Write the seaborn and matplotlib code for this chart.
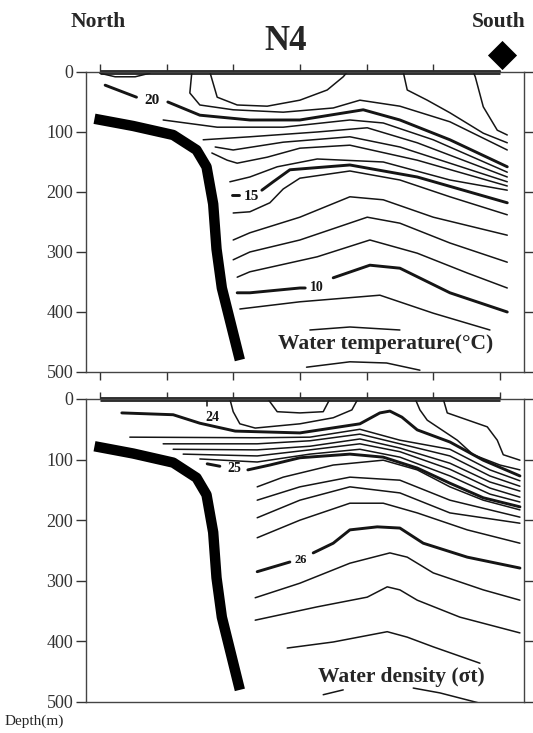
import matplotlib
matplotlib.use("Agg")
import matplotlib.pyplot as plt
import seaborn as sns

sns.set_style("ticks")
plt.rcParams['font.family'] = ['Liberation Serif', 'DejaVu Serif']

# stations along section N4 (km) and depth ticks (m)
stations_km = [0, 10, 20, 30, 40, 50, 60]
depth_ticks = [0, 100, 200, 300, 400, 500]

# sea bottom (shelf slope)
slope_km = [-0.8, 5.0, 11.0, 14.5, 16.0, 17.0, 17.5, 18.3, 21.0]
slope_dep = [78, 90, 105, 130, 158, 220, 295, 360, 480]

# ---------------- water temperature isotherms (km, depth) ----------------
t_lens_x = [0.0, 2.3, 5.3, 7.5]
t_lens_z = [2, 8, 8, 2]
t21a_x = [16.5, 17.6, 20.6, 25.1, 30.0, 34.1, 36.5, 37.1]
t21a_z = [0, 42, 55, 57, 47, 30, 8, 0]
t21b_x = [13.8, 13.5, 15.0, 20.0, 27.5, 35.0, 39.0, 45.0, 52.5, 61.1]
t21b_z = [0, 35, 55, 63, 67, 60, 47, 57, 83, 130]
t21c_x = [45.5, 46.1, 49.1, 52.5, 57.5, 61.1]
t21c_z = [0, 30, 47, 68, 102, 118]
t22_x = [56.0, 56.3, 57.5, 59.6, 61.1]
t22_z = [0, 8, 58, 97, 105]
t20a_x = [0.8, 5.5]
t20a_z = [22, 42]
t20b_x = [10.2, 15.0, 22.5, 30.0, 39.5, 45.0, 52.5, 61.1]
t20b_z = [50, 72, 80, 80, 63, 80, 113, 158]
t19_x = [9.5, 17.6, 27.5, 37.5, 42.5, 50.0, 61.1]
t19_z = [80, 92, 92, 80, 85, 113, 167]
t18_x = [15.5, 22.5, 32.6, 40.1, 47.6, 61.1]
t18_z = [113, 108, 100, 93, 118, 175]
t17_x = [17.3, 20.0, 27.5, 37.5, 45.0, 61.1]
t17_z = [125, 130, 117, 108, 125, 183]
t16_x = [16.8, 19.1, 20.6, 25.1, 30.0, 37.5, 47.6, 61.1]
t16_z = [135, 147, 152, 142, 127, 122, 147, 190]
t155_x = [19.5, 22.5, 26.6, 32.6, 42.5, 52.5, 61.1]
t155_z = [183, 175, 158, 145, 150, 180, 197]
t15a_x = [19.8, 20.9]
t15a_z = [205, 205]
t15b_x = [24.3, 26.0, 28.5, 37.5, 47.6, 61.1]
t15b_z = [197, 183, 163, 155, 175, 218]
t14_x = [20.0, 22.5, 25.5, 27.5, 30.0, 37.5, 45.0, 52.5, 61.1]
t14_z = [235, 233, 218, 195, 177, 165, 180, 208, 238]
t13_x = [20.0, 22.5, 30.0, 37.5, 42.5, 50.0, 61.1]
t13_z = [280, 268, 242, 208, 213, 242, 272]
t12_x = [20.0, 22.5, 30.0, 40.1, 45.0, 52.5, 61.1]
t12_z = [313, 300, 280, 242, 252, 285, 317]
t11_x = [20.6, 22.5, 32.6, 40.5, 47.6, 55.1, 61.1]
t11_z = [342, 333, 308, 280, 302, 335, 360]
t10a_x = [20.6, 22.5, 30.0, 30.8]
t10a_z = [368, 368, 360, 360]
t10b_x = [35.0, 40.5, 45.0, 52.5, 61.1]
t10b_z = [343, 322, 327, 368, 400]
t9_x = [21.0, 30.0, 42.0, 50.0, 58.5]
t9_z = [395, 383, 372, 402, 430]
t8_x = [31.5, 37.5, 45.0]
t8_z = [430, 425, 430]
t7_x = [31.0, 37.5, 43.0, 48.0]
t7_z = [492, 483, 485, 497]

# ---------------- water density (sigma-t) isopycnals (km, depth) ----------------
d_lens_x = [25.2, 26.6, 30.0, 33.5, 34.5]
d_lens_z = [0, 21, 23, 21, 0]
d24_x = [16.1, 16.1]
d24_z = [0, 12]
d_u_x = [19.5, 20.0, 21.0, 23.3, 30.0, 35.0, 37.8, 38.7]
d_u_z = [0, 21, 41, 48, 41, 31, 18, 0]
d245_x = [3.3, 11.0, 15.0, 20.3, 30.0, 39.0, 42.0, 43.5, 45.3, 47.6, 52.5, 57.5, 63.0]
d245_z = [23, 26, 40, 53, 56, 41, 23, 20, 30, 51, 71, 101, 127]
d_c_x = [47.3, 48.0, 49.1, 53.6, 56.0, 60.0, 63.0]
d_c_z = [0, 18, 35, 68, 92, 109, 117]
d_d_x = [51.5, 52.1, 58.1, 59.6, 60.5, 63.0]
d_d_z = [0, 23, 46, 68, 92, 101]
b_x = [23.6, 31.5, 39.0, 45.0, 52.5, 58.5, 63.0]
b1_z = [64, 63, 50, 68, 83, 117, 135]
b2_z = [74, 69, 58, 74, 94, 127, 144]
b3_z = [84, 78, 66, 81, 106, 137, 152]
b4_z = [94, 84, 74, 87, 116, 147, 162]
b5_z = [104, 91, 83, 96, 127, 157, 170]
b_start_x = [4.5, 9.5, 11.0, 12.5, 15.0]
b_start_z = [63, 74, 83, 91, 99]
d25a_x = [16.1, 18.0]
d25a_z = [107, 111]
d25b_x = [22.2, 25.5, 30.0, 37.5, 42.5, 47.6, 52.5, 57.5, 63.0]
d25b_z = [117, 109, 97, 91, 96, 114, 139, 163, 178]
e1_x = [23.6, 27.5, 35.0, 42.5, 47.6, 52.5, 57.5, 63.0]
e1_z = [145, 129, 109, 101, 117, 145, 167, 183]
e2_x = [23.6, 30.0, 37.5, 45.0, 52.5, 63.0]
e2_z = [167, 145, 129, 134, 167, 195]
e3_x = [23.6, 30.0, 37.5, 45.0, 52.5, 63.0]
e3_z = [196, 167, 145, 155, 188, 205]
e4_x = [23.6, 30.0, 37.5, 42.5, 47.6, 55.1, 63.0]
e4_z = [229, 200, 172, 172, 188, 216, 238]
d26a_x = [23.6, 28.5]
d26a_z = [285, 269]
d26b_x = [32.0, 35.0, 37.5, 41.6, 45.0, 48.5, 55.1, 63.0]
d26b_z = [254, 238, 216, 211, 213, 238, 261, 279]
f1_x = [23.3, 30.0, 37.5, 43.5, 46.1, 50.0, 57.5, 63.0]
f1_z = [328, 304, 271, 254, 261, 287, 315, 332]
f2_x = [23.3, 32.6, 40.1, 43.1, 45.0, 47.6, 54.0, 63.0]
f2_z = [365, 343, 327, 310, 315, 332, 360, 386]
f3_x = [28.1, 35.0, 43.1, 46.1, 50.0, 57.0]
f3_z = [411, 401, 384, 393, 409, 436]
f4_x = [33.5, 36.5]
f4_z = [488, 480]
f5_x = [47.0, 51.0, 57.0]
f5_z = [477, 485, 502]

LINE = '#151515'


def iso(ax, x, z, bold=False):
    sns.lineplot(x=x, y=z, ax=ax, sort=False, estimator=None, color=LINE,
                 lw=2.1 if bold else 1.1, legend=False,
                 solid_joinstyle='round', solid_capstyle='round')


fig = plt.figure(figsize=(5.33, 7.33), dpi=100)
ax1 = fig.add_axes([0.161, 0.4925, 0.822, 0.4093])
ax2 = fig.add_axes([0.161, 0.0423, 0.822, 0.4134])

for ax in (ax1, ax2):
    # shelf bottom and sea surface
    sns.lineplot(x=slope_km, y=slope_dep, ax=ax, sort=False, estimator=None,
                 color='black', lw=7.5, solid_capstyle='butt', solid_joinstyle='round')
    sns.lineplot(x=[stations_km[0], stations_km[-1]], y=[0, 0], ax=ax,
                 color='#2a2a2a', lw=3.5, clip_on=False, solid_capstyle='butt')
    ax.set_xlim(-2.1, 63.6)
    ax.set_ylim(500, 0)
    ax.set_xticks(stations_km)
    ax.set_yticks(depth_ticks)
    ax.set_xticklabels([])
    ax.tick_params(axis='y', direction='out', length=7, width=1.0, labelsize=13,
                   left=True, right=True, labelright=False, pad=2, colors='#333333')
    ax.tick_params(axis='x', direction='out', length=5, width=1.0, top=True,
                   colors='#333333')
    ax.set_xlabel('')
    ax.set_ylabel('')
    for s in ax.spines.values():
        s.set_color('#444444')
        s.set_linewidth(1.0)

ax1.tick_params(axis='x', which='both', bottom=True, length=6)
ax2.tick_params(axis='x', bottom=False)

# temperature section
for x, z in [(t_lens_x, t_lens_z), (t21a_x, t21a_z), (t21b_x, t21b_z), (t21c_x, t21c_z),
             (t22_x, t22_z), (t19_x, t19_z), (t18_x, t18_z), (t17_x, t17_z), (t16_x, t16_z),
             (t155_x, t155_z), (t14_x, t14_z), (t13_x, t13_z), (t12_x, t12_z),
             (t11_x, t11_z), (t9_x, t9_z), (t8_x, t8_z), (t7_x, t7_z)]:
    iso(ax1, x, z)
for x, z in [(t20a_x, t20a_z), (t20b_x, t20b_z), (t15a_x, t15a_z), (t15b_x, t15b_z),
             (t10a_x, t10a_z), (t10b_x, t10b_z)]:
    iso(ax1, x, z, bold=True)

lab = dict(ha='center', va='center', fontweight='bold', color=LINE)
ax1.text(7.9, 47, '20', fontsize=11, **lab)
ax1.text(22.8, 208, '15', fontsize=11, **lab)
ax1.text(32.5, 360, '10', fontsize=10, **lab)
ax1.text(42.9, 453, 'Water temperature(°C)', fontsize=15.5, ha='center', va='center',
         fontweight='bold')
sns.scatterplot(x=[60.3], y=[-28], ax=ax1, marker='D', s=260, color='black',
                clip_on=False, legend=False)

# density section
for x, z in [(d_lens_x, d_lens_z), (d24_x, d24_z), (d_u_x, d_u_z), (d_c_x, d_c_z),
             (d_d_x, d_d_z), (e1_x, e1_z), (e2_x, e2_z), (e3_x, e3_z), (e4_x, e4_z),
             (f1_x, f1_z), (f2_x, f2_z), (f3_x, f3_z), (f4_x, f4_z), (f5_x, f5_z)]:
    iso(ax2, x, z)
for i, bz in enumerate([b1_z, b2_z, b3_z, b4_z, b5_z]):
    iso(ax2, [b_start_x[i]] + b_x, [b_start_z[i]] + bz)
for x, z in [(d245_x, d245_z), (d25a_x, d25a_z), (d25b_x, d25b_z),
             (d26a_x, d26a_z), (d26b_x, d26b_z)]:
    iso(ax2, x, z, bold=True)

ax2.text(16.9, 31, '24', fontsize=10, **lab)
ax2.text(20.1, 115, '25', fontsize=10, **lab)
ax2.text(30.1, 266, '26', fontsize=9, **lab)
ax2.text(45.2, 459, 'Water density (σt)', fontsize=15.5, ha='center', va='center',
         fontweight='bold')

fig.text(98 / 533, 1 - 22 / 733, 'North', ha='center', va='center', fontsize=15.5,
         fontweight='bold')
fig.text(499 / 533, 1 - 22 / 733, 'South', ha='center', va='center', fontsize=15.5,
         fontweight='bold')
fig.text(286 / 533, 1 - 42 / 733, 'N4', ha='center', va='center', fontsize=25,
         fontweight='bold')
fig.text(34 / 533, 1 - 721 / 733, 'Depth(m)', ha='center', va='center', fontsize=11)

fig.savefig('out.png', dpi=100)
